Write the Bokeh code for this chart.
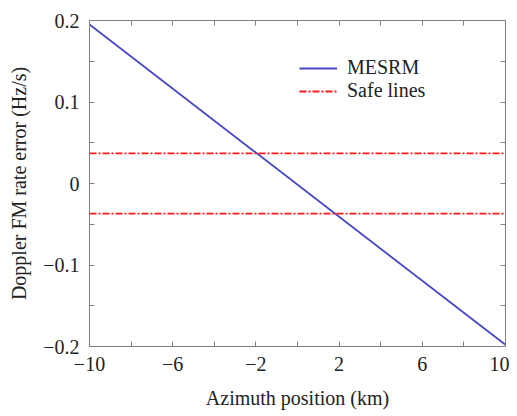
from bokeh.plotting import figure
from bokeh.models import FixedTicker, LinearAxis, Range1d, Legend, LegendItem
from bokeh.embed import file_html
from bokeh.resources import INLINE

# Data
azimuth_km = [-10, 10]
mesrm_error = [0.195, -0.198]
safe_upper = [0.037, 0.037]
safe_lower = [-0.037, -0.037]
x_label_ticks = [-10, -6, -2, 2, 6, 10]
x_minor_ticks = [-8, -4, 0, 4, 8]
y_label_ticks = [-0.2, -0.1, 0, 0.1, 0.2]
y_minor_ticks = [-0.15, -0.05, 0.05, 0.15]

FONT = "Liberation Serif"
AX = "#808080"
TXT = "#222222"

p = figure(width=509, height=416, output_backend="svg", toolbar_location=None,
           x_range=Range1d(-10, 10), y_range=Range1d(-0.2, 0.2),
           min_border_left=89, min_border_right=4, min_border_top=20, min_border_bottom=70)
p.xgrid.visible = False
p.ygrid.visible = False
p.outline_line_color = AX

r1 = p.line(azimuth_km, mesrm_error, line_color="#4646c4", line_width=1.8)
r2 = p.line(azimuth_km, safe_upper, line_color="#ff1a1a", line_width=1.8, line_dash="7 2 2 2")
p.line(azimuth_km, safe_lower, line_color="#ff1a1a", line_width=1.8, line_dash="7 2 2 2")

def fmt(v, dec):
    if v == 0:
        return "0"
    s = f"{abs(v):.{dec}f}" if dec else f"{abs(v):g}"
    return ("\u2212" + s) if v < 0 else s

def style(ax, labels=True):
    ax.axis_line_color = AX
    ax.major_tick_line_color = AX
    ax.minor_tick_line_color = AX
    ax.major_tick_in = 5
    ax.major_tick_out = 0
    ax.minor_tick_in = 5
    ax.minor_tick_out = 0
    ax.major_label_text_font = FONT
    ax.major_label_text_font_size = "20px" if labels else "0px"
    ax.major_label_text_color = TXT
    ax.axis_label_text_font = FONT
    ax.axis_label_text_font_size = "20px"
    ax.axis_label_text_font_style = "normal"
    ax.axis_label_text_color = TXT
    if not labels:
        ax.major_label_standoff = 0

xa = p.xaxis[0]
xa.ticker = FixedTicker(ticks=x_label_ticks, minor_ticks=x_minor_ticks)
xa.major_label_overrides = {v: fmt(v, 0) for v in x_label_ticks}
xa.axis_label = "Azimuth position (km)"
xa.major_label_standoff = 10
xa.axis_label_standoff = 13
style(xa)

ya = p.yaxis[0]
ya.ticker = FixedTicker(ticks=y_label_ticks, minor_ticks=y_minor_ticks)
ya.major_label_overrides = {v: fmt(v, 1) for v in y_label_ticks}
ya.axis_label = "Doppler FM rate error (Hz/s)"
ya.major_label_standoff = 10
ya.axis_label_standoff = 10
style(ya)

top = LinearAxis(ticker=FixedTicker(ticks=x_label_ticks, minor_ticks=x_minor_ticks))
style(top, labels=False)
top.major_label_overrides = {v: "" for v in x_label_ticks}
p.add_layout(top, "above")
right = LinearAxis(ticker=FixedTicker(ticks=y_label_ticks, minor_ticks=y_minor_ticks))
style(right, labels=False)
right.major_label_overrides = {v: "" for v in y_label_ticks}
p.add_layout(right, "right")

legend = Legend(items=[LegendItem(label="MESRM", renderers=[r1]),
                       LegendItem(label="Safe lines", renderers=[r2])],
                location=(210, 244))
legend.border_line_color = None
legend.background_fill_alpha = 0
legend.label_text_font = FONT
legend.label_text_font_size = "20px"
legend.label_text_color = TXT
legend.label_standoff = 10
legend.glyph_width = 38
legend.spacing = -2
legend.padding = 4
p.add_layout(legend, "center")

open("out.html", "w").write(file_html(p, INLINE))
